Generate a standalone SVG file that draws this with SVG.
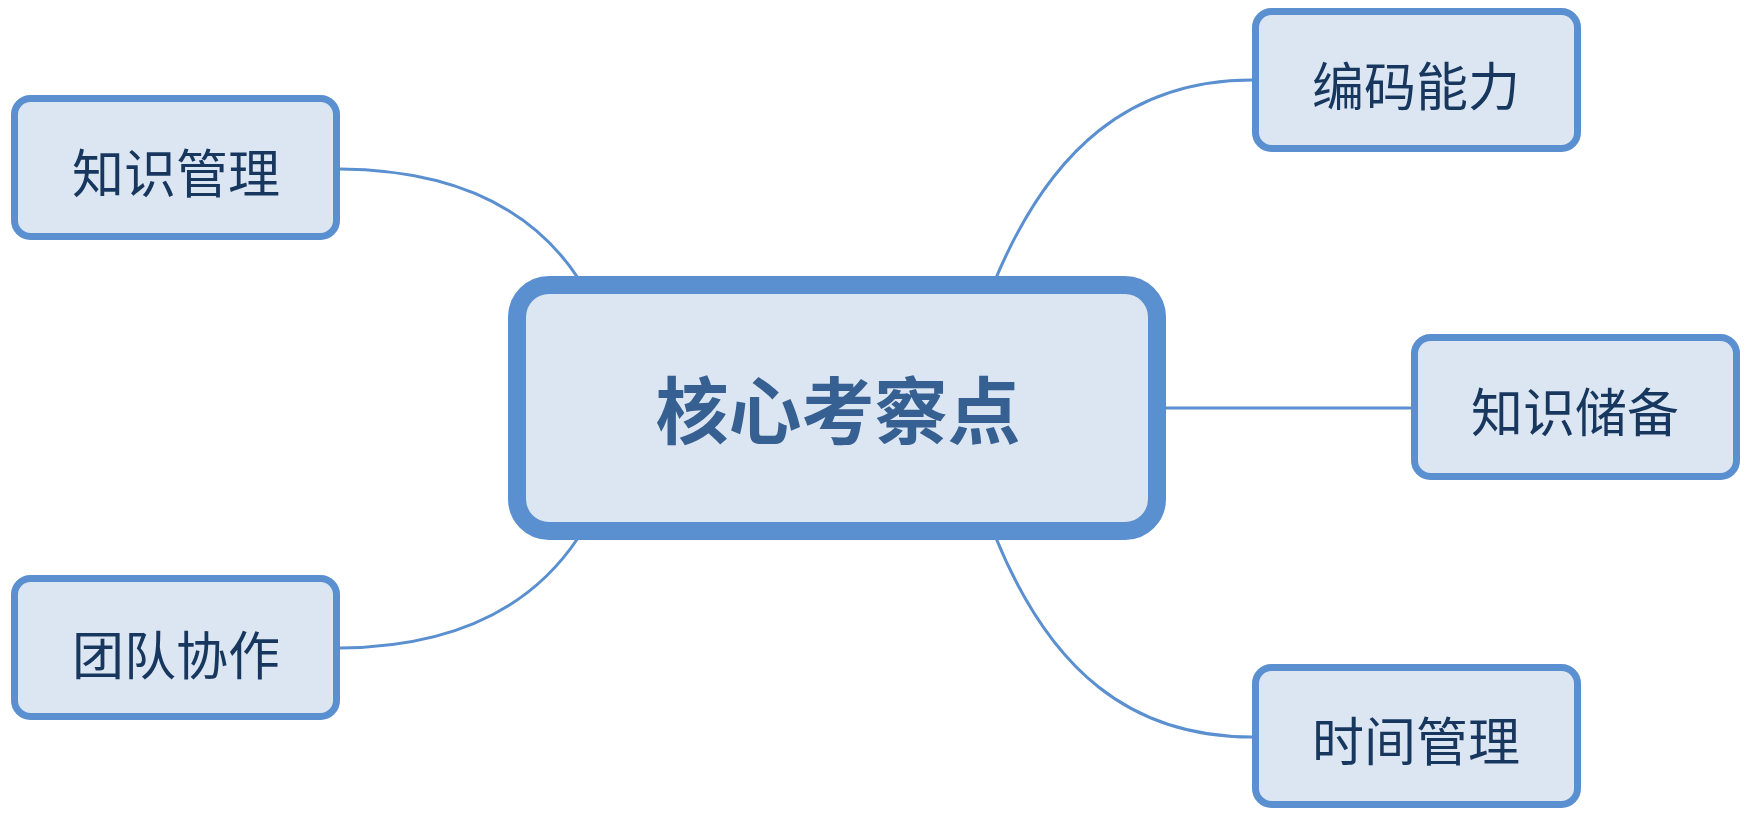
<svg xmlns="http://www.w3.org/2000/svg" width="1748" height="818" viewBox="0 0 1748 818">
<style>
.box{fill:#dce6f2;stroke:#5a8fd0;stroke-width:7}
.main{fill:#dce6f2;stroke:#5a8fd0;stroke-width:18}
.lbl{font-family:"Noto Sans CJK SC","Noto Sans",sans-serif;font-size:52px;fill:#17375e;text-anchor:middle;dominant-baseline:central}
.mlbl{font-family:"Noto Sans CJK SC","Noto Sans",sans-serif;font-size:73px;font-weight:bold;fill:#376092;text-anchor:middle;dominant-baseline:central}
.conn{fill:none;stroke:#5a8fd0;stroke-width:3}
</style>
<rect width="1748" height="818" fill="#ffffff"/>
<g id="connectors">
<path class="conn" d="M340,169 C450,170 530,205 578,278"/>
<path class="conn" d="M996,278 C1050,150 1130,80 1252,80"/>
<path class="conn" d="M1166,408 L1412,408"/>
<path class="conn" d="M340,648 C450,647 530,610 578,538"/>
<path class="conn" d="M996,538 C1050,670 1130,737 1252,737"/>
</g>
<g id="core">
<rect class="main" x="517" y="285" width="640" height="246" rx="32"/>
<text class="mlbl" x="838" y="406">核心考察点</text>
</g>
<g id="zhishiguanli">
<rect class="box" x="14.5" y="98.5" width="322" height="138" rx="16"/>
<text class="lbl" x="176" y="170">知识管理</text>
</g>
<g id="bianmanengli">
<rect class="box" x="1255.5" y="11.5" width="322" height="137" rx="16"/>
<text class="lbl" x="1416" y="83">编码能力</text>
</g>
<g id="zhishichubei">
<rect class="box" x="1414.5" y="337.5" width="322" height="139" rx="16"/>
<text class="lbl" x="1575" y="409">知识储备</text>
</g>
<g id="tuanduixiezuo">
<rect class="box" x="14.5" y="578.5" width="322" height="138" rx="16"/>
<text class="lbl" x="176" y="652">团队协作</text>
</g>
<g id="shijianguanli">
<rect class="box" x="1255.5" y="667.5" width="322" height="137" rx="16"/>
<text class="lbl" x="1416" y="738">时间管理</text>
</g>
</svg>
